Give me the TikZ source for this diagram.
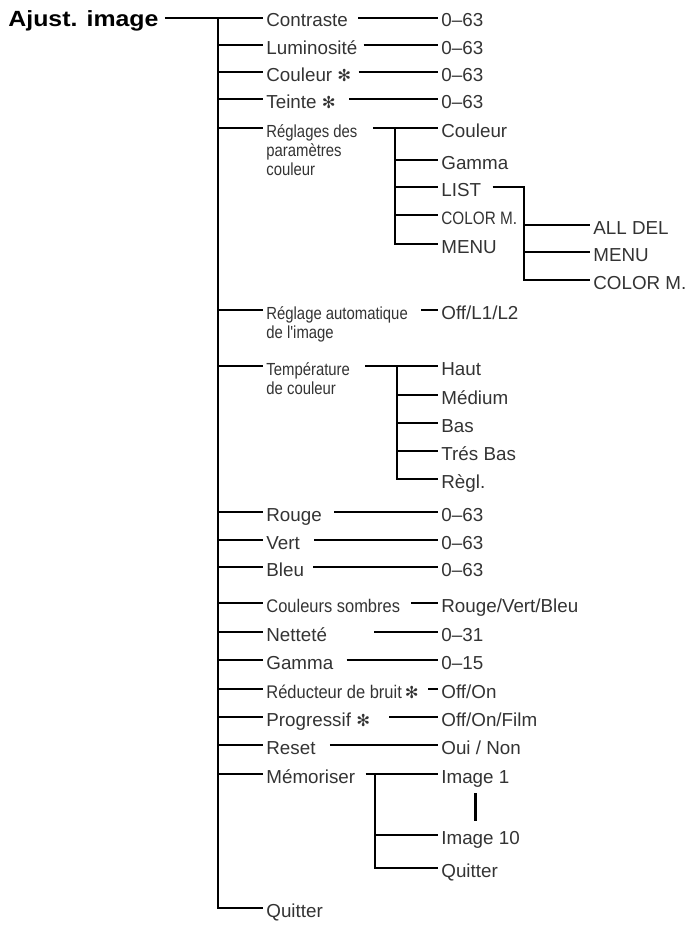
\documentclass[tikz,border=0pt]{standalone}
\usepackage{fontspec}
\usepackage{tikz}
\setmainfont{Liberation Sans}
\newfontfamily\condfont{Liberation Sans}[FakeStretch=0.85]
\newfontfamily\moyfont{Liberation Sans}[FakeStretch=0.9]
\newfontfamily\symfont{DejaVu Sans}
\newfontfamily\titrefont{Liberation Sans}[FakeStretch=1.13]
\newcommand{\etoile}{{\symfont\fontsize{16.5}{16.5}\selectfont ✻}}

\begin{document}
\begin{tikzpicture}[x=1pt,y=-1pt,line width=2.8pt,
  every node/.style={inner xsep=2pt,inner ysep=0pt,text height=18pt,text depth=0pt,
    anchor=west,text=black!80,font=\fontsize{18.8}{20}\selectfont},
  petit/.style={font=\condfont\fontsize{17.5}{19}\selectfont},
  moyen/.style={font=\moyfont\fontsize{18.3}{19}\selectfont},
  etroit/.style={font=\condfont\fontsize{18}{19}\selectfont},
  suite/.style={petit,anchor=base west}]
\useasboundingbox (0,0) rectangle (693,926);
% titre
\node[font=\titrefont\bfseries\fontsize{22}{22}\selectfont,inner xsep=0pt,text=black] (titre) at (7,18) {Ajust. image};
% premier niveau
\node (c1) at (263,18) {Contraste};
\node (c2) at (263,45) {Luminosité};
\node (c3) at (263,72) {Couleur \etoile};
\node (c4) at (263,99) {Teinte \etoile};
\node[petit] (c5) at (263,128) {Réglages des};
\node[suite] (c5b) at ([yshift=-19pt]c5.base west) {paramètres};
\node[suite] (c5c) at ([yshift=-19pt]c5b.base west) {couleur};
\node[petit] (c6) at (263,310) {Réglage automatique};
\node[suite] (c6b) at ([yshift=-19pt]c6.base west) {de l'image};
\node[petit] (c7) at (263,366) {Température};
\node[suite] (c7b) at ([yshift=-19pt]c7.base west) {de couleur};
\node (c8) at (263,512) {Rouge};
\node (c9) at (263,540) {Vert};
\node (c10) at (263,567) {Bleu};
\node[moyen] (c11) at (263,603) {Couleurs sombres};
\node (c12) at (263,632) {Netteté};
\node (c13) at (263,660) {Gamma};
\node[moyen] (c14) at (263,689) {Réducteur de bruit\,\etoile};
\node (c15) at (263,717) {Progressif \etoile};
\node (c16) at (263,745) {Reset};
\node (c17) at (263,774) {Mémoriser};
\node (c18) at (263,908) {Quitter};
% valeurs
\node (v1) at (438,18) {0–63};
\node (v2) at (438,45) {0–63};
\node (v3) at (438,72) {0–63};
\node (v4) at (438,99) {0–63};
\node (v6) at (438,310) {Off/L1/L2};
\node (v8) at (438,512) {0–63};
\node (v9) at (438,540) {0–63};
\node (v10) at (438,567) {0–63};
\node (v11) at (438,603) {Rouge/Vert/Bleu};
\node (v12) at (438,632) {0–31};
\node (v13) at (438,660) {0–15};
\node (v14) at (438,689) {Off/On};
\node (v15) at (438,717) {Off/On/Film};
\node (v16) at (438,745) {Oui / Non};
% reglages des parametres couleur
\node (s1) at (438,128) {Couleur};
\node (s2) at (438,160) {Gamma};
\node (s3) at (438,187) {LIST};
\node[etroit] (s4) at (438,215) {COLOR M.};
\node (s5) at (438,244) {MENU};
\node (t1) at (590,225) {ALL DEL};
\node (t2) at (590,252) {MENU};
\node (t3) at (590,280) {COLOR M.};
% temperature de couleur
\node (h1) at (438,366) {Haut};
\node (h2) at (438,395) {Médium};
\node (h3) at (438,423) {Bas};
\node (h4) at (438,451) {Trés Bas};
\node (h5) at (438,479) {Règl.};
% memoriser
\node (m1) at (438,774) {Image 1};
\node (m2) at (438,835) {Image 10};
\node (m3) at (438,868) {Quitter};
% troncs
\coordinate (tronc) at (218,18);
\coordinate (st1) at (395,128);
\coordinate (st2) at (524,187);
\coordinate (st3) at (397,366);
\coordinate (st4) at (375,774);
% traits
\draw ([xshift=5pt]titre.east) -- (c1.west);
\draw (tronc) |- (c18.west);
\draw (tronc |- c2.west) -- (c2.west);
\draw (tronc |- c3.west) -- (c3.west);
\draw (tronc |- c4.west) -- (c4.west);
\draw (tronc |- c5.west) -- (c5.west);
\draw (tronc |- c6.west) -- (c6.west);
\draw (tronc |- c7.west) -- (c7.west);
\draw (tronc |- c8.west) -- (c8.west);
\draw (tronc |- c9.west) -- (c9.west);
\draw (tronc |- c10.west) -- (c10.west);
\draw (tronc |- c11.west) -- (c11.west);
\draw (tronc |- c12.west) -- (c12.west);
\draw (tronc |- c13.west) -- (c13.west);
\draw (tronc |- c14.west) -- (c14.west);
\draw (tronc |- c15.west) -- (c15.west);
\draw (tronc |- c16.west) -- (c16.west);
\draw (tronc |- c17.west) -- (c17.west);
\draw ([xshift=7pt]c1.east) -- (v1.west);
\draw ([xshift=3pt]c2.east) -- (v2.west);
\draw ([xshift=4pt]c3.east) -- (v3.west);
\draw ([xshift=10pt]c4.east) -- (v4.west);
\draw ([xshift=10pt]c6.east) -- (v6.west);
\draw ([xshift=9pt]c8.east) -- (v8.west);
\draw ([xshift=11pt]c9.east) -- (v9.west);
\draw ([xshift=6pt]c10.east) -- (v10.west);
\draw ([xshift=8pt]c11.east) -- (v11.west);
\draw ([xshift=44pt]c12.east) -- (v12.west);
\draw ([xshift=10pt]c13.east) -- (v13.west);
\draw ([xshift=6pt]c14.east) -- (v14.west);
\draw ([xshift=16pt]c15.east) -- (v15.west);
\draw ([xshift=11pt]c16.east) -- (v16.west);
% sous-menus
\draw ([xshift=12pt]c5.east) -- (s1.west);
\draw (st1) |- (s5.west);
\draw (st1 |- s2.west) -- (s2.west);
\draw (st1 |- s3.west) -- (s3.west);
\draw (st1 |- s4.west) -- (s4.west);
\draw ([xshift=8pt]s3.east) -- (st2) |- (t3.west);
\draw (st2 |- t1.west) -- (t1.west);
\draw (st2 |- t2.west) -- (t2.west);
\draw ([xshift=12pt]c7.east) -- (h1.west);
\draw (st3) |- (h5.west);
\draw (st3 |- h2.west) -- (h2.west);
\draw (st3 |- h3.west) -- (h3.west);
\draw (st3 |- h4.west) -- (h4.west);
\draw ([xshift=7pt]c17.east) -- (m1.west);
\draw (st4) |- (m3.west);
\draw (st4 |- m2.west) -- (m2.west);
\draw ([yshift=-9pt]m1.south) -- ([yshift=4pt]m2.north -| m1.south);
\end{tikzpicture}
\end{document}
